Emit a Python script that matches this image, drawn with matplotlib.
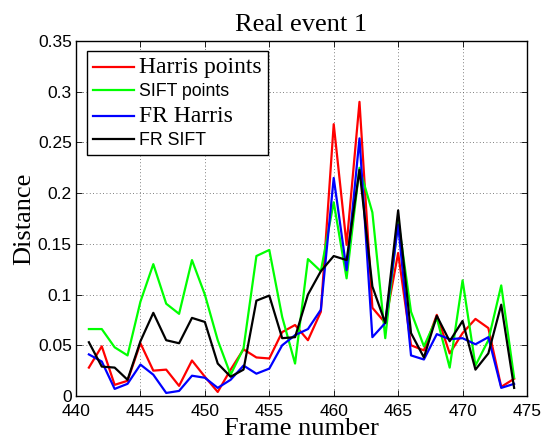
import matplotlib
matplotlib.use("Agg")
import matplotlib.pyplot as plt

frames = list(range(441, 475))
harris_points = [0.028, 0.049, 0.011, 0.015, 0.052, 0.025, 0.026, 0.010, 0.035, 0.019,
                 0.004, 0.026, 0.046, 0.038, 0.037, 0.063, 0.070, 0.055, 0.083, 0.268,
                 0.149, 0.290, 0.087, 0.072, 0.141, 0.050, 0.045, 0.080, 0.042, 0.062,
                 0.076, 0.067, 0.009, 0.017]
sift_points = [0.066, 0.066, 0.048, 0.040, 0.093, 0.130, 0.091, 0.081, 0.134, 0.100,
               0.055, 0.021, 0.047, 0.138, 0.144, 0.078, 0.032, 0.135, 0.123, 0.191,
               0.116, 0.225, 0.181, 0.057, 0.174, 0.083, 0.049, 0.077, 0.028, 0.114,
               0.030, 0.055, 0.109, 0.018]
fr_harris = [0.041, 0.034, 0.007, 0.012, 0.031, 0.021, 0.003, 0.005, 0.020, 0.018,
             0.008, 0.016, 0.030, 0.022, 0.027, 0.050, 0.060, 0.066, 0.085, 0.215,
             0.124, 0.254, 0.058, 0.072, 0.169, 0.040, 0.036, 0.061, 0.056, 0.057,
             0.051, 0.058, 0.008, 0.012]
fr_sift = [0.053, 0.029, 0.028, 0.016, 0.054, 0.082, 0.055, 0.052, 0.077, 0.073,
           0.032, 0.019, 0.026, 0.094, 0.099, 0.057, 0.058, 0.100, 0.123, 0.138,
           0.134, 0.223, 0.108, 0.072, 0.183, 0.062, 0.038, 0.079, 0.054, 0.074,
           0.026, 0.042, 0.090, 0.008]

series_labels = ["Harris points", "SIFT points", "FR Harris", "FR SIFT"]
series_colors = ["#ff0000", "#00ff00", "#0000ff", "#000000"]
x_ticks = [440, 445, 450, 455, 460, 465, 470, 475]
y_ticks = [0, 0.05, 0.1, 0.15, 0.2, 0.25, 0.3, 0.35]
y_tick_labels = ["0", "0.05", "0.1", "0.15", "0.2", "0.25", "0.3", "0.35"]

serif = ["Liberation Serif", "DejaVu Serif"]
sans = ["Liberation Sans", "DejaVu Sans"]

fig = plt.figure(figsize=(5.44, 4.41), dpi=100)
ax = fig.add_axes([76/544, 45/441, 451/544, 355/441])

for vals, lab, col in zip([harris_points, sift_points, fr_harris, fr_sift], series_labels, series_colors):
    ax.plot(frames, vals, color=col, lw=1.6, label=lab)

ax.set_xlim(440, 475)
ax.set_ylim(0, 0.35)
ax.set_xticks(x_ticks)
ax.set_yticks(y_ticks)
ax.set_yticklabels(y_tick_labels)
for lbl in ax.get_xticklabels() + ax.get_yticklabels():
    lbl.set_fontfamily(sans)
    lbl.set_fontsize(12.5)
ax.tick_params(direction="in", length=4, width=0.6, top=True, right=True)
ax.tick_params(axis="x", pad=6)
ax.tick_params(axis="y", pad=3)
ax.grid(True, linestyle=(0, (1, 3)), color="#555555", linewidth=0.6)
for s in ax.spines.values():
    s.set_linewidth(1.0)

ax.set_title("Real event 1", fontfamily=serif, fontsize=19, pad=7)
ax.set_xlabel("Frame number", fontfamily=serif, fontsize=19, labelpad=-1)
ax.set_ylabel("Distance", fontfamily=serif, fontsize=19, labelpad=2)

leg = ax.legend(loc="upper left", bbox_to_anchor=(0.0244, 0.972), borderaxespad=0,
                fancybox=False, edgecolor="black", framealpha=1, fontsize=12.8,
                handlelength=2.3, handletextpad=0.3, labelspacing=0.3, borderpad=0.35)
leg.get_frame().set_linewidth(1.0)
texts = leg.get_texts()
fams = [serif, sans, serif, sans]
sizes = [17, 12.8, 17, 12.8]
for t, f, s in zip(texts, fams, sizes):
    t.set_fontfamily(f)
    t.set_fontsize(s)

fig.savefig("out.png", dpi=100)
